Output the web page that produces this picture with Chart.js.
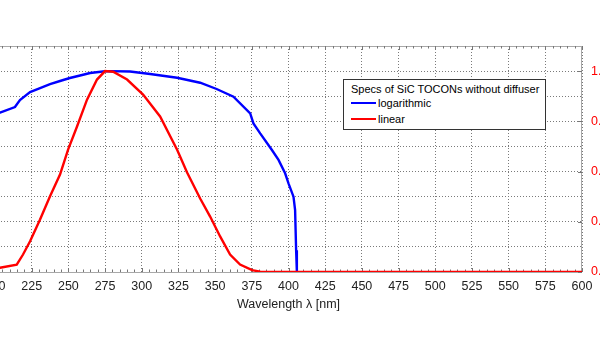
<!DOCTYPE html>
<html>
<head>
<meta charset="utf-8">
<script src="https://cdn.jsdelivr.net/npm/chart.js@4/dist/chart.umd.min.js"></script>
<style>
  html, body { margin: 0; padding: 0; background: #fff; overflow: hidden; width: 600px; height: 339px; }
  #wrap { position: absolute; left: -60px; top: 0; width: 682px; height: 339px; }
  #legend { position: absolute; left: 343px; top: 79px; width: 201px; height: 49px; border: 1px solid #333; background: #fff;
            font-family: "Liberation Sans", Arial, sans-serif; font-size: 11px; color: #000; }
  #legend .t { position: absolute; left: 7px; top: 3px; line-height: 13px; white-space: nowrap; }
  #legend .row { position: absolute; left: 7px; height: 13px; line-height: 13px; white-space: nowrap; }
  #legend .sw { position: absolute; left: 0; top: 5px; width: 25px; height: 2px; }
  #legend .lb { position: absolute; left: 27px; top: 0; }
</style>
</head>
<body>
<div id="wrap"><canvas id="chart" width="682" height="339"></canvas></div>
<div id="legend"></div>
<script>
// Data
const legendTitle = 'Specs of SiC TOCONs without diffuser';
const seriesNames = ['logarithmic', 'linear'];
const seriesColors = ['#0000ff', '#ff0000'];

// logarithmic series (left axis, log scale)
const logWavelengths = [200, 203.4, 213.6, 217, 223.9, 230.7, 237.5, 244.3, 251, 258, 264.8, 275, 278.4, 292, 305.7, 324.1, 339.8, 351, 362.5, 373.9, 376.1, 380.7, 388.7, 393.2, 397.7, 400, 403.4, 404.5, 405.2, 405.7];
const logValues = [0.0187, 0.022, 0.037, 0.0706, 0.147, 0.212, 0.306, 0.403, 0.531, 0.668, 0.839, 0.99, 1.0, 0.96, 0.77, 0.546, 0.345, 0.194, 0.0955, 0.0209, 0.0083, 0.0033, 7.2e-4, 2.9e-4, 8.5e-5, 3.4e-5, 1e-5, 2.9e-6, 7.4e-8, 1e-8];

// linear series (right axis)
const linWavelengths = [200, 203.4, 214.8, 219.1, 223.9, 230.7, 237.5, 244.3, 249.8, 255.9, 262.7, 269.5, 275, 280.5, 290, 300.9, 312.5, 324.1, 330.9, 339.8, 346.6, 353.4, 360.2, 367, 375.2, 380.7, 400, 450, 500, 550, 600];
const linValues = [0.017, 0.021, 0.037, 0.087, 0.153, 0.261, 0.377, 0.485, 0.609, 0.724, 0.858, 0.958, 1.0, 0.997, 0.958, 0.883, 0.774, 0.609, 0.495, 0.366, 0.276, 0.177, 0.087, 0.037, 0.009, 0.002, 0, 0, 0, 0, 0];

const xTicks = [200, 225, 250, 275, 300, 325, 350, 375, 400, 425, 450, 475, 500, 525, 550, 575, 600];
const leftTicks = [1e-8, 1e-7, 1e-6, 1e-5, 1e-4, 1e-3, 1e-2, 1e-1, 1, 10];
const rightTicks = [0, 0.25, 0.5, 0.75, 1.0];

const toPoints = (xs, ys) => xs.map((x, i) => ({ x: x, y: ys[i] }));

Chart.defaults.font.family = '"Liberation Sans", Arial, sans-serif';
Chart.defaults.color = '#222';

const gridStyle = { color: '#7a7a7a', lineWidth: 1, drawTicks: false };
const dotted = { display: false, dash: [1, 2] };

// frame and minor ticks like the original plot box
const frame = {
  id: 'frame',
  beforeDatasetsDraw(chart) {
    const { ctx, chartArea: a, scales } = chart;
    ctx.save();
    ctx.strokeStyle = '#a8a8a8';
    ctx.lineWidth = 1;
    ctx.strokeRect(a.left + 0.5, a.top + 0.5, a.right - a.left - 1, a.bottom - a.top);
    ctx.strokeStyle = '#777';
    ctx.beginPath();
    for (let v = 200; v <= 600; v += 5) {
      const px = Math.round(scales.x.getPixelForValue(v)) + 0.5;
      const len = v % 25 === 0 ? 4 : 2.5;
      ctx.moveTo(px, a.top); ctx.lineTo(px, a.top + len);
      ctx.moveTo(px, a.bottom); ctx.lineTo(px, a.bottom - len);
    }
    rightTicks.forEach(v => {
      const py = Math.round(scales.y1.getPixelForValue(v)) + 0.5;
      ctx.moveTo(a.right, py); ctx.lineTo(a.right - 4, py);
    });
    ctx.stroke();
    ctx.restore();
  }
};

const chart = new Chart(document.getElementById('chart'), {
  type: 'line',
  data: {
    datasets: [{
      label: seriesNames[0],
      data: toPoints(logWavelengths, logValues),
      yAxisID: 'y',
      borderColor: seriesColors[0],
      borderWidth: 2.4,
      pointRadius: 0,
      order: 1
    }, {
      label: seriesNames[1],
      data: toPoints(linWavelengths, linValues),
      yAxisID: 'y1',
      borderColor: seriesColors[1],
      borderWidth: 2.4,
      pointRadius: 0,
      order: 0
    }]
  },
  options: {
    responsive: false,
    animation: false,
    layout: { padding: { left: 0, right: 0, top: 46, bottom: 27 } },
    plugins: { legend: { display: false }, tooltip: { enabled: false } },
    scales: {
      x: {
        type: 'linear',
        min: 200,
        max: 600,
        afterBuildTicks: s => { s.ticks = xTicks.map(v => ({ value: v })); },
        afterFit: s => { s.height = 40; },
        grid: gridStyle,
        border: dotted,
        ticks: { padding: 7, font: { size: 12.5 }, color: '#222', maxRotation: 0 },
        title: { display: true, text: 'Wavelength λ [nm]', font: { size: 12.5 }, color: '#222', padding: { top: 0, bottom: 0 } }
      },
      y: {
        type: 'logarithmic',
        position: 'left',
        min: 1e-8,
        max: 10,
        afterBuildTicks: s => { s.ticks = leftTicks.map(v => ({ value: v })); },
        afterFit: s => { s.width = 55; },
        grid: gridStyle,
        border: dotted,
        ticks: { padding: 10, font: { size: 12.5 }, color: '#0000ff', callback: v => v.toExponential(0) }
      },
      y1: {
        type: 'linear',
        position: 'right',
        min: 0,
        max: 1.125,
        afterBuildTicks: s => { s.ticks = rightTicks.map(v => ({ value: v })); },
        afterFit: s => { s.width = 40; },
        grid: { display: false, drawTicks: false },
        border: { display: false },
        ticks: { padding: 9, font: { size: 12.5 }, color: '#ff0000', callback: v => v.toFixed(2) }
      }
    }
  },
  plugins: [frame]
});

// legend box drawn as html, built from the chart datasets
const legendEl = document.getElementById('legend');
let html = '<div class="t">' + legendTitle + '</div>';
chart.data.datasets.forEach((ds, i) => {
  html += '<div class="row" style="top:' + (17 + i * 16) + 'px"><div class="sw" style="background:' + ds.borderColor + '"></div><div class="lb">' + ds.label + '</div></div>';
});
legendEl.innerHTML = html;
</script>
</body>
</html>
